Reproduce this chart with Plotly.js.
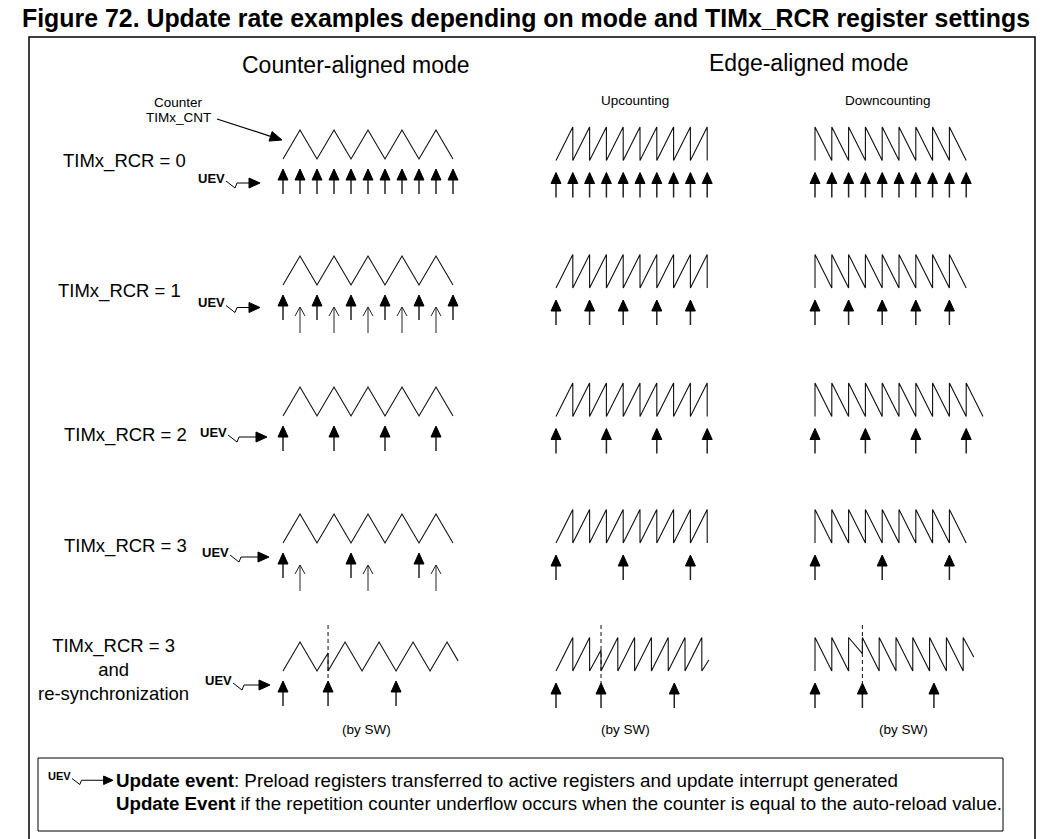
<!DOCTYPE html>
<html><head><meta charset="utf-8">
<script src="https://cdn.plot.ly/plotly-3.0.1.min.js"></script>
<style>html,body{margin:0;padding:0;background:#fff}#chart{width:1041px;height:839px}</style>
</head><body><div id="chart"></div>
<script>
// ================= DATA =================
// Counter-aligned mode. t unit = one counting ramp, level 0 = 0, level 1 = auto-reload value
const centerT           = [0,1,2,3,4,5,6,7,8,9,10];
const centerLevel       = [0,1,0,1,0,1,0,1,0,1,0];
const centerResyncT     = [0,1,2,2.65,2.65,3.65,4.65,5.65,6.65,7.65,8.65,9.65,10.3];
const centerResyncLevel = [0,1,0,0.62,0,1,0,1,0,1,0,1,0.35];
// Edge-aligned, upcounting. t unit = one counter period
const upT           = [0,1,1,2,2,3,3,4,4,5,5,6,6,7,7,8,8,9,9];
const upLevel       = [0,1,0,1,0,1,0,1,0,1,0,1,0,1,0,1,0,1,0];
const upResyncT     = [0,1,1,2,2,2.68,2.68,3.68,3.68,4.68,4.68,5.68,5.68,6.68,6.68,7.68,7.68,8.68,8.68,9.1];
const upResyncLevel = [0,1,0,1,0,0.63,0,1,0,1,0,1,0,1,0,1,0,1,0,0.33];
// Edge-aligned, downcounting
const downT             = [0,0,1,1,2,2,3,3,4,4,5,5,6,6,7,7,8,8,9];
const downLevel         = [0,1,0,1,0,1,0,1,0,1,0,1,0,1,0,1,0,1,0];
const downLongT         = [0,0,1,1,2,2,3,3,4,4,5,5,6,6,7,7,8,8,9,9,10];
const downLongLevel     = [0,1,0,1,0,1,0,1,0,1,0,1,0,1,0,1,0,1,0,1,0];
const downResyncT       = [0,0,1,1,2,2,2.82,2.82,3.82,3.82,4.82,4.82,5.82,5.82,6.82,6.82,7.82,7.82,8.82,8.82,9.45];
const downResyncLevel   = [0,1,0,1,0,1,0.52,1,0,1,0,1,0,1,0,1,0,1,0,1,0.42];

// Update events (UEV) per row, in the same t units
const centerUEV  = [[0,1,2,3,4,5,6,7,8,9,10],[0,2,4,6,8,10],[0,3,6,9],[0,4,8],[0,2.65,6.65]];
const centerFlow = [[],[1,3,5,7,9],[],[1,5,9],[]];   // counter overflow/underflow without UEV
const upUEV      = [[0,1,2,3,4,5,6,7,8,9],[0,2,4,6,8],[0,3,6,9],[0,4,8],[0,2.68,7.04]];
const downUEV    = [[0,1,2,3,4,5,6,7,8,9],[0,2,4,6,8],[0,3,6,9],[0,4,8],[0,2.82,7.08]];
const resyncT    = [2.65, 2.68, 2.82];   // software re-synchronization instant per column

const rowLabels  = ['TIMx_RCR = 0','TIMx_RCR = 1','TIMx_RCR = 2','TIMx_RCR = 3','TIMx_RCR = 3<br>and<br>re-synchronization'];
const modeTitles = ['Counter-aligned mode','Edge-aligned mode'];
const subTitles  = ['Upcounting','Downcounting'];
const swNote     = '(by SW)';
const titleText  = 'Figure 72. Update rate examples depending on mode and TIMx_RCR register settings';
const legendLine1 = '<b>Update event</b>: Preload registers transferred to active registers and update interrupt generated';
const legendLine2 = '<b>Update Event</b> if the repetition counter underflow occurs when the counter is equal to the auto-reload value.';

// ================= LAYOUT / STYLE =================
const W = 1041, H = 839;
const COL_X0   = [283, 556, 815];
const COL_UNIT = [17, 16.8, 16.8];
const ROW_BASE_CENTER = [159, 285, 416, 543, 671];
const ROW_BASE_EDGE   = [160.5, 288, 416.5, 543, 671];
const AMP_CENTER = 29, AMP_EDGE = 33.5;
const ARW = {headLen: 11, halfW: 5, len: 25};
const GAP = [10, 12, 12];
const HOL = {gap: 22, len: 26, headLen: 9, halfW: 5};
const DASH_ABOVE = 46;
const FONT = 'Liberation Sans, Arial, sans-serif';

const traces = [];
const shapes = [];
const annotations = [];

function xName(c){ return c === 0 ? 'x' : 'x' + (c + 1); }
function yName(c, r){ const i = (c === 0 ? r : 5 + r) + 1; return i === 1 ? 'y' : 'y' + i; }
const CX = 'x4', CY = 'y11';   // full-canvas helper axes (pixel units) for frames & labels

const waves = [
  [[centerT,centerLevel],[centerT,centerLevel],[centerT,centerLevel],[centerT,centerLevel],[centerResyncT,centerResyncLevel]],
  [[upT,upLevel],[upT,upLevel],[upT,upLevel],[upT,upLevel],[upResyncT,upResyncLevel]],
  [[downT,downLevel],[downT,downLevel],[downLongT,downLongLevel],[downT,downLevel],[downResyncT,downResyncLevel]]
];
const uevs = [centerUEV, upUEV, downUEV];

for (let c = 0; c < 3; c++) {
  const u = COL_UNIT[c];
  const a = c === 0 ? AMP_CENTER : AMP_EDGE;
  const gap = GAP[c];
  for (let r = 0; r < 5; r++) {
    const xa = xName(c), ya = yName(c, r);
    const [wt, wl] = waves[c][r];
    traces.push({type:'scatter', mode:'lines', x: wt, y: wl, xaxis: xa, yaxis: ya,
      line:{color:'#111', width:1.1}, hoverinfo:'skip', showlegend:false});
    const hx = [], hy = [], sx = [], sy = [];
    uevs[c][r].forEach(t => {
      hx.push(t - ARW.halfW/u, t, t + ARW.halfW/u, t - ARW.halfW/u, null);
      hy.push(-(gap+ARW.headLen)/a, -gap/a, -(gap+ARW.headLen)/a, -(gap+ARW.headLen)/a, null);
      sx.push(t, t, null);
      sy.push(-(gap+ARW.headLen-1)/a, -(gap+ARW.len)/a, null);
    });
    if (r === 4) {
      traces.push({type:'scatter', mode:'lines', x:[resyncT[c], resyncT[c]], y:[DASH_ABOVE/a, -gap/a],
        xaxis: xa, yaxis: ya, line:{color:'#111', width:1, dash:'4px,3px'}, hoverinfo:'skip', showlegend:false});
    }
    traces.push({type:'scatter', mode:'lines', x: sx, y: sy, xaxis: xa, yaxis: ya,
      line:{color:'#222', width:1.5}, hoverinfo:'skip', showlegend:false});
    traces.push({type:'scatter', mode:'lines', x: hx, y: hy, xaxis: xa, yaxis: ya, fill:'toself',
      fillcolor:'#000', line:{color:'#000', width:1}, hoverinfo:'skip', showlegend:false});
    if (c === 0 && centerFlow[r].length) {
      const ox = [], oy = [];
      centerFlow[r].forEach(t => {
        ox.push(t - HOL.halfW/u, t, t + HOL.halfW/u, null, t, t, null);
        oy.push(-(HOL.gap+HOL.headLen)/a, -HOL.gap/a, -(HOL.gap+HOL.headLen)/a, null, -HOL.gap/a, -(HOL.gap+HOL.len)/a, null);
      });
      traces.push({type:'scatter', mode:'lines', x: ox, y: oy, xaxis: xa, yaxis: ya,
        line:{color:'#222', width:1}, hoverinfo:'skip', showlegend:false});
    }
  }
}

// ---------- axes ----------
const layout = {
  width: W, height: H, autosize: false,
  margin: {l:0, r:0, t:0, b:0, pad:0},
  paper_bgcolor: '#fff', plot_bgcolor: 'rgba(0,0,0,0)',
  showlegend: false,
  title: {text: '<b>' + titleText + '</b>', x: 22/W, xanchor:'left', xref:'paper', y: 1 - 18/H, yref:'paper', yanchor:'middle',
          font:{family: FONT, size: 25, color:'#000'}},
  shapes: shapes, annotations: annotations
};
function hidden(range){ return {domain:[0,1], range: range, visible:false, fixedrange:true, showgrid:false, zeroline:false}; }
for (let c = 0; c < 3; c++) {
  const key = c === 0 ? 'xaxis' : 'xaxis' + (c + 1);
  layout[key] = hidden([-COL_X0[c]/COL_UNIT[c], (W - COL_X0[c])/COL_UNIT[c]]);
}
layout.xaxis4 = hidden([0, W]);
for (let r = 0; r < 5; r++) {
  const bC = ROW_BASE_CENTER[r], bE = ROW_BASE_EDGE[r];
  layout[r === 0 ? 'yaxis' : 'yaxis' + (r + 1)] = hidden([(bC - H)/AMP_CENTER, bC/AMP_CENTER]);
  layout['yaxis' + (r + 6)] = hidden([(bE - H)/AMP_EDGE, bE/AMP_EDGE]);
}
layout.yaxis11 = hidden([H, 0]);
traces.push({type:'scatter', mode:'markers', x:[0], y:[0], xaxis: CX, yaxis: CY, marker:{size:1, opacity:0}, hoverinfo:'skip', showlegend:false});

// ---------- frames ----------
shapes.push({type:'rect', xref:CX, yref:CY, x0:29, y0:37, x1:1035, y1:850, line:{color:'#000', width:1.5}});
shapes.push({type:'rect', xref:CX, yref:CY, x0:38, y0:758, x1:1003, y1:831, line:{color:'#000', width:1}});

// ---------- text ----------
function txt(x, y, text, size, opts){
  annotations.push(Object.assign({xref:CX, yref:CY, x:x, y:y, text:text, showarrow:false,
    xanchor:'center', yanchor:'middle', font:{family:FONT, size:size, color:'#000'}}, opts || {}));
}
txt(356, 65, modeTitles[0], 23);
txt(808, 63, modeTitles[1], 23);
txt(635, 100, subTitles[0], 13.5);
txt(888, 100, subTitles[1], 13.5);
txt(178, 102, 'Counter', 13.5);
txt(178, 117, 'TIMx_CNT', 13.5);
const labelPos = [[124,161],[119,291],[125,435],[125,546],[113,669]];
rowLabels.forEach((t,i) => txt(labelPos[i][0], labelPos[i][1], t, 18.5));
[366, 625, 903].forEach(x => txt(x, 729, swNote, 13.5));
txt(115, 781, legendLine1, 17.5, {xanchor:'left', align:'left', borderpad:0});
txt(115, 804, legendLine2, 17.5, {xanchor:'left', align:'left', borderpad:0});

// ---------- counter call-out arrow ----------
(function(){
  const x0 = 217, y0 = 119, tx = 282, ty = 140, hl = 12, hw = 5;
  const dx = tx - x0, dy = ty - y0, L = Math.hypot(dx, dy), ux = dx/L, uy = dy/L;
  const bx = tx - hl*ux, by = ty - hl*uy;
  shapes.push({type:'line', xref:CX, yref:CY, x0:x0, y0:y0, x1:bx, y1:by, line:{color:'#000', width:1.2}});
  shapes.push({type:'path', xref:CX, yref:CY, path:`M${bx - hw*uy},${by + hw*ux} L${tx},${ty} L${bx + hw*uy},${by - hw*ux} Z`,
    fillcolor:'#000', line:{color:'#000', width:1}});
})();

// ---------- UEV glyphs ----------
const uevGlyph = [ // [text right edge, text centre y, arrow tip x, scale]
  [227, 178, 260, 1], [227, 302.5, 260, 1], [229, 432, 267, 1], [231, 552, 269, 1], [234, 680, 270, 1], [73, 776, 113, 0.85]
];
uevGlyph.forEach(([R, cy, tip, s]) => {
  txt(R, cy, '<b>UEV</b>', 13*s, {xanchor:'right'});
  const ay = cy + 5*s;
  shapes.push({type:'path', xref:CX, yref:CY,
    path:`M${R-1},${cy+3*s} L${R+8*s},${cy+10*s} L${R+10*s},${ay} L${tip-9*s},${ay}`, line:{color:'#000', width:1}});
  shapes.push({type:'path', xref:CX, yref:CY,
    path:`M${tip-11*s},${ay-5*s} L${tip},${ay} L${tip-11*s},${ay+5*s} Z`, fillcolor:'#000', line:{color:'#000', width:1}});
});

// condensed rendering (reference uses a narrow face) – fit the long lines to their measured widths
const FIT = [['Figure 72', 1008], ['Update event:', 782], ['Update Event if', 886]];
Plotly.newPlot('chart', traces, layout, {staticPlot:true, displayModeBar:false}).then(() => {
  document.querySelectorAll('#chart text').forEach(el => {
    FIT.forEach(([start, len]) => {
      if (el.textContent.startsWith(start)) {
        el.setAttribute('textLength', len);
        el.setAttribute('lengthAdjust', 'spacingAndGlyphs');
      }
    });
  });
});
</script></body></html>
